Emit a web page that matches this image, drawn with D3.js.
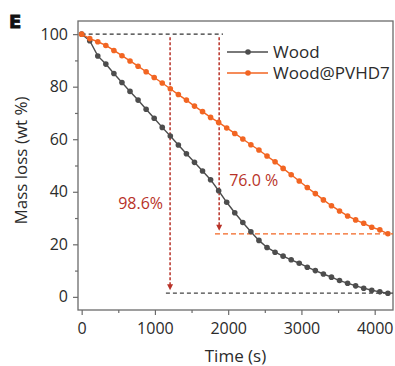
<!DOCTYPE html>
<html lang="en">
<head>
  <meta charset="UTF-8">
  <title>Mass loss vs time</title>
  <style>
    * { margin: 0; padding: 0; box-sizing: border-box; }
    body { background: #fff; width: 395px; height: 366px; overflow: hidden; }
    svg { display: block; font-family: "Open Sans", Arial, sans-serif; }
  </style>
  <script src="https://cdnjs.cloudflare.com/ajax/libs/d3/7.8.5/d3.min.js"></script>
</head>
<body>
  <svg id="chart" width="395" height="366"></svg>

  <script>
    // time samples (s)
    const times = [0, 110, 220, 330, 440, 550, 660, 770, 880, 990,
      1100, 1210, 1320, 1430, 1540, 1650, 1760, 1870, 1980, 2090,
      2200, 2310, 2420, 2530, 2640, 2750, 2860, 2970, 3080, 3190,
      3300, 3410, 3520, 3630, 3740, 3850, 3960, 4070, 4180];

    const woodValues = [100, 97.5, 91.7, 88.6, 85.0, 81.6, 78.2, 74.9, 71.4, 68.0,
      64.5, 61.2, 57.8, 54.5, 51.2, 47.9, 44.6, 40.4, 36.0, 32.0,
      28.3, 24.8, 21.5, 18.8, 17.0, 15.5, 14.1, 12.8, 11.3, 10.0,
      8.7, 7.5, 6.2, 5.2, 4.2, 3.3, 2.5, 1.9, 1.4];

    const pvhdValues = [100, 98.3, 97.1, 95.7, 93.8, 91.8, 89.8, 87.8, 85.7, 83.5,
      81.4, 79.2, 77.0, 74.9, 72.6, 70.5, 68.3, 66.4, 64.3, 62.2,
      60.1, 57.9, 55.9, 53.6, 51.4, 48.9, 46.5, 44.1, 41.6, 39.3,
      36.9, 34.7, 32.7, 30.8, 29.3, 28.0, 26.5, 25.5, 24.0];

    const seriesNames = ['Wood', 'Wood@PVHD7'];
    const xTicks = [0, 1000, 2000, 3000, 4000];
    const yTicks = [0, 20, 40, 60, 80, 100];

    // annotation values (data units)
    const woodDropTime = 1207, woodFinal = 1.4, woodLabel = '98.6%';
    const pvhdDropTime = 1877, pvhdFinal = 24.0, pvhdLabel = '76.0 %';
    const topLineEnd = 1930;

    const colors = { wood: '#4d4d4d', pvhd: '#f26522', red: '#b83228', frame: '#6b6b6b', text: '#2b2b2b' };

    const margin = { left: 78, top: 21, right: 2, bottom: 56 };
    const width = 395 - margin.left - margin.right;
    const height = 366 - margin.top - margin.bottom;

    const svg = d3.select('#chart');
    const g = svg.append('g').attr('transform', `translate(${margin.left},${margin.top})`);

    const x = d3.scaleLinear().domain([-50, 4250]).range([0, width]);
    const y = d3.scaleLinear().domain([-5, 105]).range([height, 0]);

    // frame
    g.append('rect')
      .attr('width', width).attr('height', height)
      .attr('fill', 'none').attr('stroke', colors.frame).attr('stroke-width', 1.3);

    // minor ticks
    g.append('g').attr('transform', `translate(0,${height})`)
      .call(d3.axisBottom(x).tickValues([500, 1500, 2500, 3500]).tickSize(3).tickFormat(''))
      .call(a => a.select('.domain').remove())
      .call(a => a.selectAll('line').attr('stroke', colors.frame).attr('stroke-width', 1.2));
    g.append('g')
      .call(d3.axisLeft(y).tickValues([10, 30, 50, 70, 90]).tickSize(3).tickFormat(''))
      .call(a => a.select('.domain').remove())
      .call(a => a.selectAll('line').attr('stroke', colors.frame).attr('stroke-width', 1.2));

    // major axes
    const xAxis = g.append('g').attr('transform', `translate(0,${height})`)
      .call(d3.axisBottom(x).tickValues(xTicks).tickFormat(d3.format('d')).tickSize(5).tickPadding(8));
    const yAxis = g.append('g')
      .call(d3.axisLeft(y).tickValues(yTicks).tickFormat(d3.format('d')).tickSize(5).tickPadding(5));
    [xAxis, yAxis].forEach(a => {
      a.select('.domain').remove();
      a.selectAll('line').attr('stroke', colors.frame).attr('stroke-width', 1.2);
      a.selectAll('text').attr('fill', colors.text).style('font-size', '16px')
        .style('font-family', '"Open Sans", Arial, sans-serif');
    });

    // axis titles
    svg.append('text')
      .attr('x', margin.left + width / 2).attr('y', 362)
      .attr('text-anchor', 'middle').attr('fill', colors.text)
      .style('font-size', '17px').text('Time (s)');
    svg.append('text')
      .attr('transform', `translate(27,${margin.top + height / 2 - 5}) rotate(-90)`)
      .attr('text-anchor', 'middle').attr('fill', colors.text)
      .style('font-size', '17px').text('Mass loss (wt %)');

    // panel letter
    svg.append('text')
      .attr('x', 9).attr('y', 28)
      .style('font-family', '"DejaVu Sans", Arial, sans-serif')
      .style('font-weight', 900).style('font-size', '18px')
      .attr('fill', '#111').attr('stroke', '#111').attr('stroke-width', 0.8)
      .text('E');

    // reference dashed lines
    g.append('line')
      .attr('x1', x(0)).attr('x2', x(topLineEnd)).attr('y1', y(100)).attr('y2', y(100))
      .attr('stroke', '#333').attr('stroke-width', 1.3).attr('stroke-dasharray', '4,3');
    g.append('line')
      .attr('x1', x(1150)).attr('x2', width).attr('y1', y(woodFinal)).attr('y2', y(woodFinal))
      .attr('stroke', '#444').attr('stroke-width', 1.3).attr('stroke-dasharray', '4,3');
    g.append('line')
      .attr('x1', x(1820)).attr('x2', width).attr('y1', y(pvhdFinal)).attr('y2', y(pvhdFinal))
      .attr('stroke', colors.pvhd).attr('stroke-width', 1.2).attr('stroke-dasharray', '5,3');

    // red arrows
    function arrow(t, v0, v1) {
      const ax = x(t), tip = y(v1) - 3;
      g.append('line')
        .attr('x1', ax).attr('x2', ax).attr('y1', y(v0) + 3).attr('y2', tip - 4)
        .attr('stroke', colors.red).attr('stroke-width', 1.5).attr('stroke-dasharray', '3,2');
      g.append('path')
        .attr('d', `M${ax - 3},${tip - 6}L${ax + 3},${tip - 6}L${ax},${tip}Z`)
        .attr('fill', colors.red);
    }
    arrow(woodDropTime, 100, woodFinal);
    arrow(pvhdDropTime, 100, pvhdFinal);

    g.append('text')
      .attr('x', x(woodDropTime) - 7).attr('y', y(33.5))
      .attr('text-anchor', 'end').attr('fill', colors.red)
      .style('font-size', '16px').text(woodLabel);
    g.append('text')
      .attr('x', x(pvhdDropTime) + 10).attr('y', y(42.2))
      .attr('fill', colors.red)
      .style('font-size', '16px').text(pvhdLabel);

    // series
    const series = [
      { name: seriesNames[0], values: woodValues, color: colors.wood },
      { name: seriesNames[1], values: pvhdValues, color: colors.pvhd }
    ];
    const line = d3.line().x(d => x(d[0])).y(d => y(d[1]));

    series.forEach(s => {
      const pts = times.map((t, i) => [t, s.values[i]]);
      g.append('path').datum(pts)
        .attr('d', line).attr('fill', 'none')
        .attr('stroke', s.color).attr('stroke-width', 1.4);
      g.selectAll(null).data(pts).enter().append('circle')
        .attr('cx', d => x(d[0])).attr('cy', d => y(d[1]))
        .attr('r', 2.8).attr('fill', s.color);
    });

    // legend
    const legend = g.append('g').attr('transform', `translate(${227 - margin.left},${52 - margin.top})`);
    series.forEach((s, i) => {
      const row = legend.append('g').attr('transform', `translate(0,${i * 21})`);
      row.append('line').attr('x1', 0).attr('x2', 41).attr('stroke', s.color).attr('stroke-width', 1.4);
      row.append('circle').attr('cx', 21).attr('r', 2.8).attr('fill', s.color);
      row.append('text').attr('x', 46).attr('y', 6)
        .attr('fill', colors.text).style('font-size', '17px').text(s.name);
    });
  </script>
</body>
</html>
